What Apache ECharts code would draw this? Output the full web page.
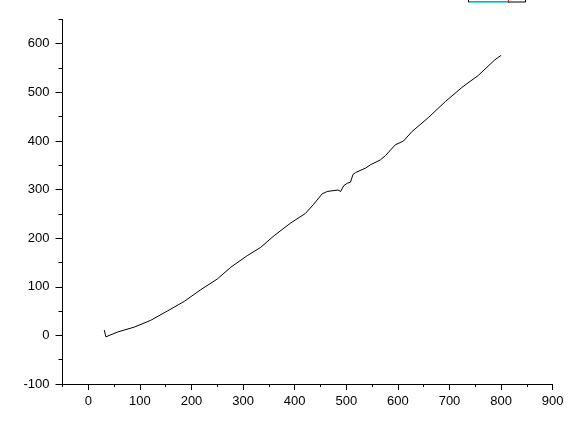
<!DOCTYPE html>
<html>
<head>
<meta charset="utf-8">
<script src="https://cdn.jsdelivr.net/npm/echarts@6/dist/echarts.min.js"></script>
<style>
html,body{margin:0;padding:0;background:#fff;}
#chart{width:584px;height:421px;}
</style>
</head>
<body>
<div id="chart"></div>
<script>
var xValues = [31, 34, 57, 89, 121, 153, 186, 218, 250, 276, 308, 334, 360, 392, 421, 437, 453, 463, 476, 484, 489, 495, 502, 508, 513, 518, 521, 537, 547, 566, 576, 595, 611, 627, 659, 692, 724, 756, 788, 800];
var yValues = [11, -3, 7, 17, 31, 50, 70, 94, 116, 140, 164, 181, 205, 231, 251, 270, 291, 296, 298, 299, 296, 308, 313, 315, 331, 335, 337, 344, 351, 361, 370, 392, 400, 419, 448, 481, 510, 535, 567, 576];
var xMajorTicks = [0, 100, 200, 300, 400, 500, 600, 700, 800, 900];
var yMajorTicks = [-100, 0, 100, 200, 300, 400, 500, 600];

var points = xValues.map(function (x, i) { return [x, yValues[i]]; });
var font = '"Liberation Sans", Arial, sans-serif';

var chart = echarts.init(document.getElementById('chart'), null, {renderer: 'canvas'});
chart.setOption({
  animation: false,
  backgroundColor: '#ffffff',
  grid: {left: 62.5, right: 31.3, top: 19.4, bottom: 37, containLabel: false},
  xAxis: [{
    type: 'value', min: -50, max: 900, interval: 50, position: 'bottom',
    axisLine: {show: true, onZero: false, lineStyle: {color: '#000', width: 1}},
    axisTick: {show: true, length: 3, lineStyle: {color: '#000'}},
    splitLine: {show: false},
    axisLabel: {
      show: true, margin: 11, color: '#000', fontSize: 13, fontFamily: font,
      formatter: function (v) { return (v % 100 === 0) ? String(v) : ''; }
    }
  }, {
    type: 'value', min: -50, max: 900, position: 'bottom', offset: 0,
    axisLine: {show: false, onZero: false},
    axisTick: {show: true, length: 6, customValues: xMajorTicks, lineStyle: {color: '#000'}},
    axisLabel: {show: false},
    splitLine: {show: false}
  }],
  yAxis: [{
    type: 'value', min: -100, max: 650, interval: 50, position: 'left',
    axisLine: {show: true, onZero: false, lineStyle: {color: '#000', width: 1}},
    axisTick: {show: true, length: 4, lineStyle: {color: '#000'}},
    splitLine: {show: false},
    axisLabel: {
      show: true, margin: 13, color: '#000', fontSize: 13, fontFamily: font,
      formatter: function (v) { return (v % 100 === 0) ? String(v) : ''; }
    }
  }, {
    type: 'value', min: -100, max: 650, position: 'left', offset: 0,
    axisLine: {show: false, onZero: false},
    axisTick: {show: true, length: 7, customValues: yMajorTicks, lineStyle: {color: '#000'}},
    axisLabel: {show: false},
    splitLine: {show: false}
  }],
  graphic: [
    {type: 'rect', shape: {x: 468.5, y: -20, width: 57, height: 22}, style: {fill: '#ffffff', stroke: '#000', lineWidth: 1}},
    {type: 'line', shape: {x1: 469, y1: 2.5, x2: 508, y2: 2.5}, style: {stroke: '#00ffff', lineWidth: 1}},
    {type: 'line', shape: {x1: 508.5, y1: 0, x2: 508.5, y2: 3}, style: {stroke: '#ff0000', lineWidth: 1}}
  ],
  series: [{
    type: 'line', xAxisIndex: 0, yAxisIndex: 0,
    data: points, showSymbol: false, smooth: false,
    lineStyle: {color: '#000', width: 1}
  }]
});
</script>
</body>
</html>
